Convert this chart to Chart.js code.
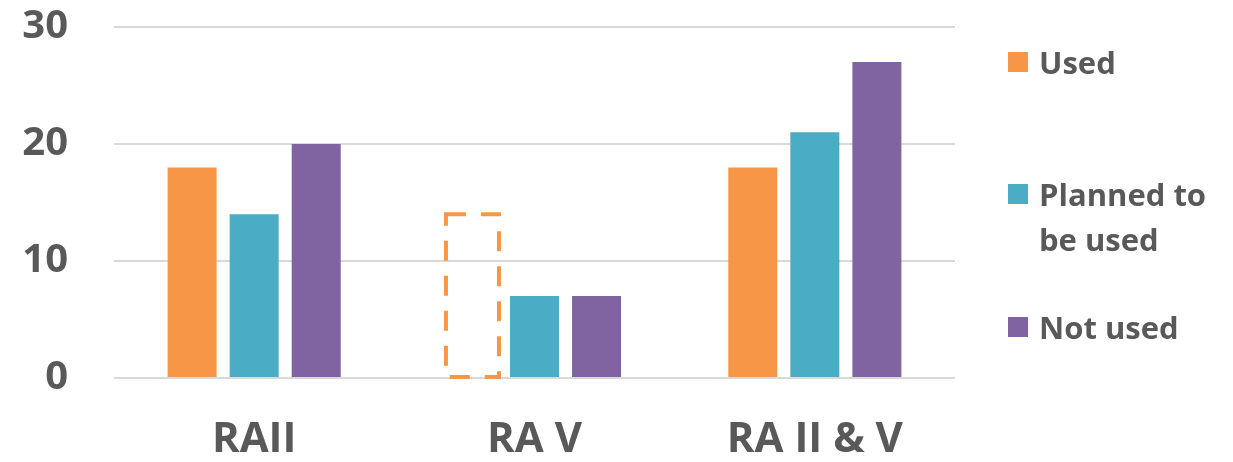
<!DOCTYPE html>
<html>
<head>
<meta charset="utf-8">
<script src="https://cdn.jsdelivr.net/npm/chart.js@4"></script>
<style>
  body { margin: 0; background: #fff; }
  #wrap { position: relative; width: 1233px; height: 462px; }
  #legend { position: absolute; left: 1008px; top: 0; font-family: "Open Sans", sans-serif; font-weight: bold; font-size: 31px; color: #595959; }
  .item { position: absolute; left: 0; display: flex; align-items: flex-start; }
  .box { width: 20px; height: 20px; margin-top: 12px; margin-right: 11px; flex: none; }
  .txt { width: 180px; line-height: 45px; }
</style>
</head>
<body>
<div id="wrap">
  <canvas id="chart" width="1233" height="462"></canvas>
  <div id="legend"></div>
</div>
<script>
const categories = ["RAII", "RA V", "RA II & V"];
const used = [18, 14, 18];
const planned = [14, 7, 21];
const notUsed = [20, 7, 27];
const usedDashed = [false, true, false]; // RA V "used" bar only drawn as an outline
const yTicks = [0, 10, 20, 30];
const seriesNames = ["Used", "Planned to be used", "Not used"];

const colors = ["#F79646", "#4BACC6", "#8064A2"];
const legendTops = [40, 172, 305];

// dashed outline for the hollow bar
const dashedBars = {
  id: "dashedBars",
  afterDatasetsDraw(chart) {
    const meta = chart.getDatasetMeta(0);
    const c = chart.ctx;
    meta.data.forEach((bar, i) => {
      if (!usedDashed[i]) return;
      const p = bar.getProps(["x", "y", "base", "width"], true);
      c.save();
      c.strokeStyle = colors[0];
      c.lineWidth = 4;
      c.setLineDash([20, 15]);
      c.strokeRect(p.x - p.width / 2 - 2, p.y, p.width + 4, p.base - p.y);
      c.restore();
    });
  }
};

const tickFont = { family: "Open Sans", size: 40, weight: "bold" };

new Chart(document.getElementById("chart"), {
  type: "bar",
  data: {
    labels: categories,
    datasets: [
      {
        label: seriesNames[0],
        data: used,
        backgroundColor: usedDashed.map(d => d ? "rgba(0,0,0,0)" : colors[0])
      },
      { label: seriesNames[1], data: planned, backgroundColor: colors[1] },
      { label: seriesNames[2], data: notUsed, backgroundColor: colors[2] }
    ]
  },
  options: {
    responsive: false,
    animation: false,
    categoryPercentage: 0.664,
    barPercentage: 0.79,
    layout: { padding: { top: 27, right: 278, left: 0, bottom: 0 } },
    plugins: { legend: { display: false }, tooltip: { enabled: false } },
    scales: {
      y: {
        min: 0,
        max: 30,
        afterBuildTicks: s => { s.ticks = yTicks.map(v => ({ value: v })); },
        afterFit: s => { s.width = 114; s.paddingTop = 0; s.paddingBottom = 0; },
        ticks: { font: tickFont, color: "#595959", padding: 46 },
        grid: { color: "#D9D9D9", lineWidth: 2, drawTicks: false },
        border: { display: false }
      },
      x: {
        afterFit: s => { s.height = 84; s.paddingLeft = 0; s.paddingRight = 0; },
        ticks: { font: { family: "Open Sans", size: 42, weight: "bold" }, color: "#595959", padding: 37 },
        grid: { display: false, drawTicks: false },
        border: { display: false }
      }
    }
  },
  plugins: [dashedBars]
});

const legend = document.getElementById("legend");
seriesNames.forEach((name, i) => {
  const item = document.createElement("div");
  item.className = "item";
  item.style.top = legendTops[i] + "px";
  item.innerHTML = '<span class="box" style="background:' + colors[i] + '"></span><span class="txt">' + name + "</span>";
  legend.appendChild(item);
});
</script>
</body>
</html>
